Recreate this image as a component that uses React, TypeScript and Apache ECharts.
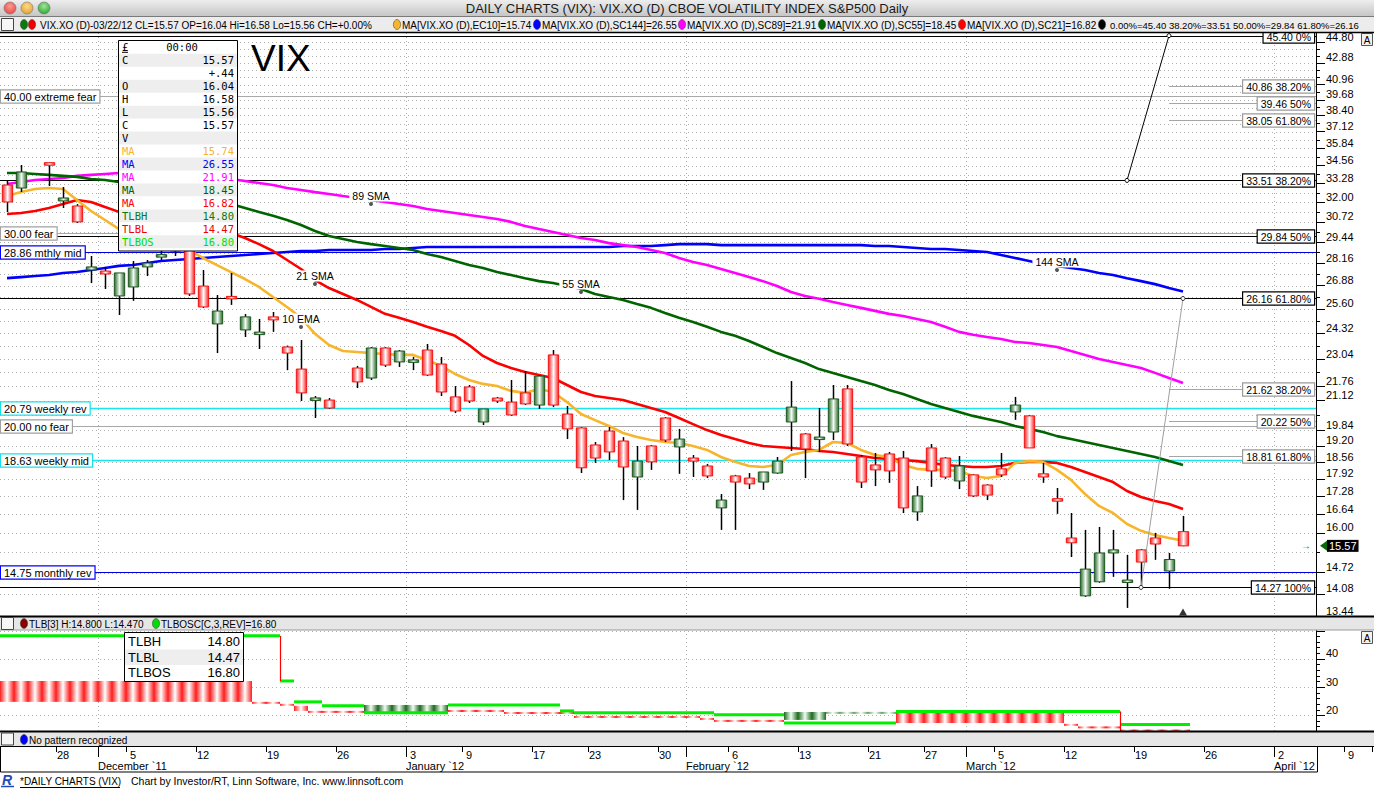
import React, { useEffect, useRef } from "react";
import * as echarts from "echarts";

// ---------------- DATA ----------------
const dates: string[] = [
  "2011-11-22","2011-11-23","2011-11-24","2011-11-25","2011-11-28","2011-11-29","2011-11-30",
  "2011-12-01","2011-12-02","2011-12-05","2011-12-06","2011-12-07","2011-12-08","2011-12-09","2011-12-12","2011-12-13","2011-12-14","2011-12-15","2011-12-16","2011-12-19","2011-12-20","2011-12-21","2011-12-22","2011-12-23","2011-12-26","2011-12-27","2011-12-28","2011-12-29","2011-12-30",
  "2012-01-03","2012-01-04","2012-01-05","2012-01-06","2012-01-09","2012-01-10","2012-01-11","2012-01-12","2012-01-13","2012-01-17","2012-01-18","2012-01-19","2012-01-20","2012-01-23","2012-01-24","2012-01-25","2012-01-26","2012-01-27","2012-01-30","2012-01-31",
  "2012-02-01","2012-02-02","2012-02-03","2012-02-06","2012-02-07","2012-02-08","2012-02-09","2012-02-10","2012-02-13","2012-02-14","2012-02-15","2012-02-16","2012-02-17","2012-02-21","2012-02-22","2012-02-23","2012-02-24","2012-02-27","2012-02-28","2012-02-29",
  "2012-03-01","2012-03-02","2012-03-05","2012-03-06","2012-03-07","2012-03-08","2012-03-09","2012-03-12","2012-03-13","2012-03-14","2012-03-15","2012-03-16","2012-03-19","2012-03-20","2012-03-21","2012-03-22","2012-03-23","2012-03-26","2012-03-27","2012-03-28","2012-03-29","2012-03-30",
  "2012-04-02","2012-04-03","2012-04-04","2012-04-05","2012-04-06","2012-04-09","2012-04-10"
];
const MAIN_SLOTS = 94; // Nov 22 .. Apr 4 visible in the price panel

const opens = [
  33.19,32.98,null,34.70,32.10,31.76,27.77,27.71,26.30,26.80,
  27.95,28.55,28.90,30.00,26.85,24.80,26.22,24.49,24.30,25.17,
  23.63,22.56,21.17,21.14,null,22.61,22.14,23.58,22.90,22.93,
  23.48,22.80,21.28,21.73,20.19,21.23,21.05,21.46,20.92,23.24,
  20.53,19.94,19.24,19.81,19.40,17.99,19.20,20.36,19.16,18.72,
  18.41,16.86,18.03,17.95,17.80,18.14,20.19,19.69,19.50,19.77,
  21.64,18.76,18.45,18.88,18.72,16.72,19.12,18.72,17.84,18.07,
  17.69,18.30,20.62,20.45,18.11,17.18,15.83,14.02,14.44,15.34,
  14.44,15.44,15.83,14.77,16.04
];
const highs = [
  33.54,34.61,null,34.76,33.05,31.89,28.60,27.95,27.60,28.30,
  28.36,28.90,31.00,30.20,27.77,26.35,27.60,25.32,25.06,25.43,
  23.70,23.98,21.32,21.23,null,22.71,23.63,23.63,23.48,23.14,
  23.78,23.14,21.77,21.82,20.75,21.28,22.05,22.47,22.28,23.48,
  20.88,19.98,19.36,19.98,19.56,19.20,19.24,20.40,19.90,18.84,
  18.49,17.36,18.07,18.14,18.18,18.76,22.00,19.73,20.79,21.82,
  21.82,18.84,18.92,18.96,19.00,17.65,19.28,18.76,18.80,18.10,
  17.72,18.92,21.28,20.49,18.53,17.58,16.68,16.10,16.20,16.10,
  15.28,15.47,16.00,15.34,16.58
];
const lows = [
  31.36,32.71,null,33.12,31.63,30.65,27.02,26.69,25.27,26.03,
  27.42,28.36,28.60,26.30,25.64,23.33,25.81,24.13,23.53,24.39,
  22.51,21.10,20.36,20.75,null,21.68,22.05,22.66,22.66,22.51,
  22.23,21.32,20.57,21.01,20.06,21.01,20.45,20.92,20.75,20.83,
  19.48,18.14,18.53,18.64,17.14,16.79,18.26,19.36,18.11,17.99,
  17.95,16.10,16.10,17.54,17.51,18.11,19.00,17.95,18.96,19.44,
  19.20,17.58,17.65,17.77,16.68,16.41,17.62,17.92,17.54,17.25,
  17.14,17.99,20.28,19.12,17.77,16.65,15.21,13.99,14.41,14.59,
  13.67,14.27,15.12,14.23,15.56
];
const closes = [
  32.03,34.11,null,34.68,32.30,30.72,27.95,27.54,27.60,27.89,
  28.18,28.66,30.59,26.41,25.70,25.48,26.19,25.17,24.33,25.01,
  23.33,21.46,21.19,20.79,null,21.96,23.58,22.75,23.43,22.95,
  22.28,21.50,20.66,21.10,20.75,21.10,20.49,20.97,22.23,20.92,
  19.90,18.34,18.72,18.96,18.37,18.60,18.57,19.44,19.48,18.60,
  18.03,17.14,17.80,17.73,18.18,18.60,20.83,19.08,19.52,21.19,
  19.28,17.80,18.26,18.22,16.86,17.29,18.22,17.99,18.41,17.29,
  17.32,18.07,20.92,19.12,17.99,17.11,15.67,14.83,15.34,15.44,
  14.47,15.05,15.63,15.13,15.57
];

const ema10 = [
  32.43,32.70,32.91,32.98,32.91,32.16,31.43,30.84,30.26,29.82,
  29.57,29.38,29.26,28.96,28.48,28.06,27.65,27.25,26.80,26.24,
  25.70,25.12,24.29,23.73,23.43,23.38,23.33,23.28,23.24,23.24,
  22.99,22.71,22.33,22.05,21.87,21.77,21.55,21.46,21.64,21.50,
  21.05,20.53,20.27,20.02,19.73,19.56,19.44,19.36,19.32,19.20,
  19.04,18.76,18.57,18.41,18.37,18.45,18.84,18.96,19.04,19.36,
  19.32,19.04,18.84,18.76,18.45,18.30,18.26,18.26,18.22,18.03,
  17.95,18.03,18.53,18.60,18.57,18.26,17.88,17.36,16.93,16.68,
  16.30,16.07,15.93,15.83,15.74
];
const sma144 = [
  27.30,27.36,27.42,27.48,27.60,27.65,27.77,27.89,28.01,28.06,
  28.18,28.30,28.36,28.42,28.48,28.54,28.60,28.66,28.72,28.78,
  28.84,28.90,28.90,28.96,28.96,28.96,28.96,29.02,29.02,29.08,
  29.14,29.14,29.14,29.14,29.14,29.14,29.14,29.14,29.14,29.14,
  29.14,29.14,29.14,29.14,29.20,29.20,29.20,29.26,29.32,29.32,
  29.32,29.26,29.26,29.26,29.26,29.26,29.26,29.26,29.26,29.26,
  29.26,29.26,29.20,29.20,29.14,29.08,29.02,29.02,28.96,28.90,
  28.84,28.66,28.48,28.30,28.12,28.01,27.89,27.77,27.60,27.48,
  27.30,27.13,26.96,26.74,26.55
];
const sma89 = [
  33.26,33.40,33.54,33.61,33.68,33.83,33.90,33.97,34.04,34.04,
  33.97,33.90,33.83,33.83,33.76,33.68,33.61,33.47,33.33,33.19,
  32.98,32.84,32.70,32.57,32.43,32.30,32.16,32.03,31.89,31.76,
  31.56,31.43,31.30,31.17,31.04,30.91,30.72,30.46,30.26,30.07,
  29.88,29.70,29.57,29.38,29.26,29.14,28.96,28.78,28.48,28.24,
  28.06,27.83,27.60,27.36,27.13,26.85,26.52,26.30,26.14,25.97,
  25.81,25.65,25.49,25.33,25.22,25.06,24.90,24.65,24.39,24.24,
  24.13,24.03,23.88,23.83,23.73,23.63,23.43,23.24,23.04,22.90,
  22.75,22.61,22.38,22.14,21.91
];
const sma55 = [
  34.04,34.04,33.97,33.90,33.83,33.76,33.61,33.54,33.40,33.26,
  33.12,32.91,32.77,32.57,32.36,32.16,31.89,31.63,31.37,31.11,
  30.84,30.52,30.14,29.82,29.64,29.45,29.32,29.20,29.08,28.96,
  28.72,28.54,28.30,28.06,27.89,27.65,27.48,27.30,27.13,27.02,
  26.85,26.69,26.41,26.24,26.08,25.86,25.65,25.38,25.12,24.90,
  24.65,24.39,24.19,23.93,23.63,23.33,23.09,22.85,22.56,22.38,
  22.19,22.00,21.82,21.59,21.41,21.19,20.97,20.79,20.62,20.45,
  20.32,20.19,20.02,19.90,19.77,19.60,19.48,19.36,19.24,19.12,
  19.00,18.88,18.76,18.60,18.45
];
const sma21 = [
  31.23,31.30,31.43,31.63,31.89,32.16,32.03,31.69,31.37,31.11,
  30.91,30.72,30.52,30.39,30.26,30.14,30.01,29.70,29.32,28.90,
  28.36,27.83,27.19,26.74,26.41,26.08,25.70,25.33,25.12,24.90,
  24.65,24.44,24.19,23.73,23.19,22.85,22.61,22.42,22.28,22.14,
  21.82,21.50,21.32,21.23,21.14,20.97,20.79,20.62,20.36,20.10,
  19.85,19.65,19.48,19.32,19.20,19.16,19.12,19.08,19.00,18.96,
  18.88,18.80,18.72,18.68,18.64,18.60,18.53,18.45,18.41,18.37,
  18.37,18.41,18.53,18.57,18.57,18.53,18.37,18.18,17.99,17.80,
  17.47,17.25,17.11,17.00,16.82
];

// price-axis tick labels (log scale)
const priceTickLabels = [44.80,42.88,40.96,39.68,38.40,37.12,35.84,34.56,33.28,32.00,30.72,29.44,28.16,26.88,25.60,24.32,23.04,21.76,21.12,19.84,19.20,18.56,17.92,17.28,16.64,16.00,14.72,14.08,13.44];
const priceTickStep = 0.64;
const priceAxisMin = 13.44;
const priceAxisMax = 45.654;
const tlbTickLabels = [20, 30, 40, 50];
const tlbMinorStep = 2;
const tlbAxisMin = 14.47;
const tlbAxisMax = 50.28;

const weekStartIdx = [4,9,14,19,24,29,33,38,42,47,52,57,62,66,71,76,81,86,91,96];
const monthStartIdx = [7,29,49,69,91];
const monthNames = ["December `11","January `12","February `12","March `12","April `12"];

// horizontal reference levels
const refLevels = [40.00, 30.00, 28.86, 20.79, 20.00, 18.63, 14.75];
const refNames = ["extreme fear","fear","mthly mid","weekly rev","no fear","weekly mid","monthly rev"];
// fibonacci retracements
const fibPcts = ["0%","38.20%","50%","61.80%","100%"];
const fibMain = [45.40, 33.51, 29.84, 26.16, 14.27];
const fibSubPcts = ["38.20%","50%","61.80%"];
const fibUpper = [40.86, 39.46, 38.05];
const fibLower = [21.62, 20.22, 18.81];
const fibSubStartIdx = 83;
const fibAnchorA = [[80, 33.51], [83, 45.40]];
const fibAnchorB = [[81, 14.27], [84, 26.16]];

// moving-average annotations
const maLabelText = ["89 SMA","21 SMA","10 EMA","55 SMA","144 SMA"];
const maLabelIdx = [26, 22, 21, 41, 75];
const maLabelVal = [31.89, 26.97, 24.64, 26.52, 27.77];

const lastIdx = 84;
const lastClose = 15.57;
const markerVal = 13.55;

// three line break panel
const tlbStart = [0,18,20,21,22,26,32,36,41,50,51,56,59,64,76,77,80];
const tlbEnd   = [18,20,21,22,26,32,36,41,50,51,56,59,64,76,77,80,85];
const tlbLow   = [24.8,24.1,23.4,21.6,20.9,20.9,21.2,20.5,19.1,18.4,17.7,18.4,20.75,17.3,16.3,15.6,14.47];
const tlbHigh  = [32.2,24.8,24.1,23.4,21.6,23.7,21.95,21.2,19.8,19.1,18.4,21.2,21.05,21.6,17.0,15.9,14.80];
const tlbKind  = [0,0,0,0,0,1,0,0,0,0,0,1,2,0,0,0,0]; // 0 down, 1 up, 2 fading up
const tlbosStart = [0,20,21,23,26,32,40,41,51,56,64,80];
const tlbosEnd   = [20,21,23,26,32,40,41,51,56,64,80,85];
const tlbosVal   = [48.2,32.2,24.8,23.4,20.9,23.7,21.6,20.9,20.2,17.3,21.4,16.8];
const tlbReversalIdx = [20, 80];
const tlbReversalFrom = [48.2, 21.4];
const tlbReversalTo = [32.2, 14.47];

// ---------------- STYLE ----------------
const FONT = '"Liberation Sans", Arial, sans-serif';
const MONO = '"DejaVu Sans Mono", monospace';
const C_EMA = "#f7b52c";
const C_144 = "#0000ff";
const C_89 = "#ff00ff";
const C_55 = "#006400";
const C_21 = "#ff0000";
const GRID_DOT = "#b0b0b0";
const refStyles = [
  { line: "#a8a8a8", border: "#a0a0a0", w: 1 },
  { line: "#a8a8a8", border: "#a0a0a0", w: 1 },
  { line: "#0000d8", border: "#0000ff", w: 1 },
  { line: "#19e6ee", border: "#19e0e8", w: 1.5 },
  { line: "#a8a8a8", border: "#a0a0a0", w: 1 },
  { line: "#19e6ee", border: "#19e0e8", w: 1.5 },
  { line: "#0000d8", border: "#0000ff", w: 1 },
];

const L = Math.log;
const hGrad = (edge: string, mid: string) =>
  new echarts.graphic.LinearGradient(0, 0, 1, 0, [
    { offset: 0, color: edge },
    { offset: 0.5, color: mid },
    { offset: 1, color: edge },
  ]);

function txt(x: number, y: number, text: string, font: string, fill = "#000", align = "left", extra: any = {}) {
  return {
    type: "text", x, y, z: 100, silent: true,
    style: { text, font, fill, align, verticalAlign: "middle", textAlign: align, textVerticalAlign: "middle", ...extra },
  };
}
function rect(x: number, y: number, w: number, h: number, style: any, z = 100) {
  return { type: "rect", z, silent: true, shape: { x, y, width: w, height: h }, style };
}
function hline(x1: number, x2: number, y: number, stroke: string, lw = 1, z = 101) {
  return { type: "line", z, silent: true, shape: { x1, y1: y, x2, y2: y }, style: { stroke, lineWidth: lw } };
}
function oval(cx: number, cy: number, fill: string) {
  return { type: "ellipse", z: 101, silent: true, shape: { cx, cy, rx: 3.6, ry: 5 }, style: { fill, stroke: "#333", lineWidth: 0.5 } };
}
function xBox(y: number) {
  return [
    rect(1.5, y, 12, 12, { fill: "#f6f6f6", stroke: "#444", lineWidth: 1 }, 101),
    txt(7.5, y + 6.5, "X", `11px ${FONT}`, "#000", "center", {}),
  ];
}

function buildChrome() {
  const g: any[] = [];
  // title bar
  g.push(rect(0, 0, 1374, 16, { fill: new echarts.graphic.LinearGradient(0, 0, 0, 1, [{ offset: 0, color: "#eeeeee" }, { offset: 1, color: "#c6c6c6" }]) }));
  g.push(hline(0, 1374, 16.5, "#7a7a7a"));
  const lights = [["#e2463f", "#ff9a94"], ["#e0a02a", "#ffd88a"], ["#27a52c", "#9fe59a"]];
  lights.forEach((c, k) => {
    g.push({ type: "circle", z: 101, silent: true, shape: { cx: 10 + 17 * k, cy: 8, r: 6 },
      style: { fill: new echarts.graphic.RadialGradient(0.5, 0.35, 0.7, [{ offset: 0, color: c[1] }, { offset: 1, color: c[0] }]), stroke: "#777", lineWidth: 0.6 } });
  });
  g.push(txt(687, 8.5, "DAILY CHARTS (VIX): VIX.XO (D) CBOE VOLATILITY INDEX S&P500 Daily", `13px ${FONT}`, "#1a1a1a", "center"));

  // main legend bar
  g.push(rect(0, 17, 1374, 15, { fill: "#ececec" }));
  g.push(hline(0, 1374, 32.5, "#000", 1.5));
  g.push(...xBox(18.5));
  g.push(oval(24, 24.5, "#0a7a0a"), oval(32, 24.5, "#ee0000"));
  const LF = `10px ${FONT}`;
  g.push(txt(40, 25, "VIX.XO (D)-03/22/12 CL=15.57 OP=16.04 Hi=16.58 Lo=15.56 CH=+0.00%", LF));
  g.push(oval(397, 24.5, "#f7b52c"), txt(402, 25, "MA[VIX.XO (D),EC10]=15.74", LF));
  g.push(oval(537, 24.5, "#0000ff"), txt(542, 25, "MA[VIX.XO (D),SC144]=26.55", LF));
  g.push(oval(682, 24.5, "#ff00ff"), txt(687, 25, "MA[VIX.XO (D),SC89]=21.91", LF));
  g.push(oval(822, 24.5, "#006400"), txt(827, 25, "MA[VIX.XO (D),SC55]=18.45", LF));
  g.push(oval(962, 24.5, "#ff0000"), txt(967, 25, "MA[VIX.XO (D),SC21]=16.82", LF));
  g.push(oval(1102, 24.5, "#000000"), txt(1110, 25, "0.00%=45.40 38.20%=33.51 50.00%=29.84 61.80%=26.16", `9.5px ${FONT}`));

  // "A" buttons
  g.push(rect(1361.5, 33.5, 11, 12, { fill: "#f2f2f2", stroke: "#555", lineWidth: 1 }));
  g.push(txt(1367, 40, "A", `10px ${FONT}`, "#000", "center"));
  g.push(rect(1361.5, 631.5, 11, 12, { fill: "#f2f2f2", stroke: "#555", lineWidth: 1 }));
  g.push(txt(1367, 638, "A", `10px ${FONT}`, "#000", "center"));

  // data window
  const rows: [string, string, string][] = [
    ["£", "00:00", "#000"], ["C", "15.57", "#000"], ["", "+.44", "#000"], ["O", "16.04", "#000"],
    ["H", "16.58", "#000"], ["L", "15.56", "#000"], ["C", "15.57", "#000"], ["V", "", "#000"],
    ["MA", "15.74", C_EMA], ["MA", "26.55", C_144], ["MA", "21.91", C_89], ["MA", "18.45", C_55],
    ["MA", "16.82", C_21], ["TLBH", "14.80", "#0a7a0a"], ["TLBL", "14.47", "#ee0000"], ["TLBOS", "16.80", "#00e000"],
  ];
  g.push(rect(118.5, 40.5, 119, 210.5, { fill: "#fff", stroke: "#000", lineWidth: 1 }));
  rows.forEach((r, k) => {
    const cy = 47.3 + k * 12.96;
    if (k % 2 === 1) g.push(rect(119, cy - 6.4, 118, 12.9, { fill: "#eeeeee" }, 100));
    const DF = `10.5px ${MONO}`;
    if (k === 0) {
      g.push(txt(122, cy, r[0], DF, r[2]));
      g.push(hline(122, 128, cy + 5, "#000", 1));
      g.push(txt(182, cy, r[1], DF, r[2], "center"));
    } else {
      g.push(txt(122, cy, r[0], DF, r[2]));
      g.push(txt(234, cy, r[1], DF, r[2], "right"));
    }
  });
  // big symbol
  g.push(txt(251, 58, "VIX", `37px ${FONT}`, "#000", "left"));

  // TLB header bar
  g.push(rect(0, 617, 1374, 13, { fill: "#e6e6e6" }));
  g.push(hline(0, 1374, 616.5, "#000", 2));
  g.push(hline(0, 1374, 630, "#9a9a9a", 1));
  g.push(...xBox(617.5));
  g.push(oval(24, 623.5, "#8b0000"), txt(29, 624, "TLB[3] H:14.800 L:14.470", LF));
  g.push(oval(156, 623.5, "#00dd00"), txt(161, 624, "TLBOSC[C,3,REV]=16.80", LF));
  // TLB data window
  g.push(rect(124.5, 632.5, 119, 49, { fill: "#fff", stroke: "#000", lineWidth: 1 }));
  g.push(rect(125, 649.5, 118, 15.5, { fill: "#eeeeee" }));
  const TF = `13px ${FONT}`;
  [["TLBH", "14.80"], ["TLBL", "14.47"], ["TLBOS", "16.80"]].forEach((r, k) => {
    const cy = 641.5 + k * 15.7;
    g.push(txt(128, cy, r[0], TF), txt(240, cy, r[1], TF, "#000", "right"));
  });

  // pattern bar
  g.push(rect(0, 732, 1374, 14, { fill: "#e6e6e6" }));
  g.push(hline(0, 1374, 731.5, "#000", 2));
  g.push(hline(0, 1374, 746.5, "#000", 1));
  g.push(...xBox(733));
  g.push(oval(24, 739.5, "#0000ff"), txt(29, 740, "No pattern recognized", LF));

  // date strip frame
  g.push(rect(0.5, 746.5, 1317, 25.5, { fill: "none", stroke: "#000", lineWidth: 1 }));

  // footer
  g.push(txt(2, 780, "R", `bold italic 14px ${FONT}`, "#1f49b6"));
  g.push(hline(1, 14, 786.5, "#1f49b6", 1.5));
  g.push(txt(20, 781, "*DAILY CHARTS (VIX)", `10px ${FONT}`, "#000"));
  g.push(hline(20, 120, 787.5, "#000", 1));
  g.push(txt(131, 781, "Chart by Investor/RT, Linn Software, Inc. www.linnsoft.com", `10.5px ${FONT}`, "#000"));
  return g;
}

// ---------------- RENDERERS ----------------
function renderCandle(params: any, api: any) {
  const i = api.value(0);
  const o = api.value(1), h = api.value(2), l = api.value(3), c = api.value(4);
  const pO = api.coord([i, o]);
  const yC = api.coord([i, c])[1];
  const yH = api.coord([i, h])[1];
  const yL = api.coord([i, l])[1];
  const w = api.size([1, 0])[0] * 0.74;
  const up = c > o;
  let top = Math.min(pO[1], yC);
  let hgt = Math.abs(pO[1] - yC);
  if (hgt < 2.5) { top -= (2.5 - hgt) / 2; hgt = 2.5; }
  const xc = Math.round(pO[0]) + 0.5;
  return {
    type: "group",
    children: [
      { type: "line", shape: { x1: xc, y1: yH, x2: xc, y2: yL }, style: { stroke: "#000", lineWidth: 1.5 } },
      {
        type: "rect",
        shape: { x: xc - w / 2, y: top, width: w, height: hgt },
        style: { fill: up ? hGrad("#27682a", "#f2fbf2") : hGrad("#ff1c1c", "#ffffff"), stroke: up ? "#1d561f" : "#f01414", lineWidth: 1 },
      },
    ],
  };
}

function levelText(grp: number, k: number) {
  if (grp === 0) return refLevels[k].toFixed(2) + " " + refNames[k];
  if (grp === 1) return fibMain[k].toFixed(2) + " " + fibPcts[k];
  const arr = grp === 2 ? fibUpper : fibLower;
  return arr[k].toFixed(2) + " " + fibSubPcts[k];
}

function renderGridLine(params: any, api: any) {
  const cs = params.coordSys;
  const y = Math.round(api.coord([0, api.value(1)])[1]) + 0.5;
  return { type: "line", shape: { x1: cs.x, y1: y, x2: cs.x + cs.width, y2: y }, style: { stroke: GRID_DOT, lineWidth: 1, lineDash: [1, 3] } };
}

function renderLevelLine(params: any, api: any) {
  const cs = params.coordSys;
  const grp = api.value(2), k = api.value(3);
  const y = Math.round(api.coord([0, api.value(1)])[1]) + 0.5;
  let x1 = cs.x, x2 = cs.x + cs.width, stroke = "#000", lw = 1;
  if (grp === 0) { stroke = refStyles[k].line; lw = refStyles[k].w; }
  else if (grp >= 2) { x1 = api.coord([api.value(0), api.value(1)])[0]; stroke = "#a6a6a6"; }
  return { type: "line", shape: { x1, y1: y, x2, y2: y }, style: { stroke, lineWidth: lw } };
}

function renderLevelLabel(params: any, api: any) {
  const cs = params.coordSys;
  const grp = api.value(2), k = api.value(3);
  const y = Math.round(api.coord([0, api.value(1)])[1]) + 0.5;
  const left = grp === 0;
  const border = grp === 0 ? refStyles[k].border : grp === 1 ? "#000" : "#9a9a9a";
  return {
    type: "text",
    x: left ? cs.x + 1 : cs.x + cs.width - 2,
    y,
    style: {
      text: levelText(grp, k),
      font: left ? `11px ${FONT}` : `10.5px ${FONT}`,
      fill: "#000",
      align: left ? "left" : "right",
      verticalAlign: "middle",
      backgroundColor: "#fff",
      borderColor: border,
      borderWidth: 1.2,
      padding: [1, 3, 0, 3],
    },
  };
}

function renderMaLabel(params: any, api: any) {
  const k = api.value(2);
  const p = api.coord([api.value(0), api.value(1)]);
  return {
    type: "group",
    children: [
      { type: "circle", shape: { cx: p[0], cy: p[1], r: 2 }, style: { fill: "#555" } },
      {
        type: "text", x: p[0], y: p[1] - 8,
        style: { text: maLabelText[k], font: `10.5px ${FONT}`, fill: "#000", align: "center", verticalAlign: "middle", backgroundColor: "#fff", padding: [0, 3, 0, 3] },
      },
    ],
  };
}

function renderPriceTag(params: any, api: any) {
  const cs = params.coordSys;
  const y = api.coord([api.value(0), api.value(1)])[1];
  const xr = cs.x + cs.width;
  return {
    type: "group",
    children: [
      { type: "text", x: xr - 10, y, style: { text: "→", font: `10px ${FONT}`, fill: "#0a7a0a", align: "center", verticalAlign: "middle" } },
      { type: "polygon", shape: { points: [[xr + 4, y], [xr + 11, y - 5], [xr + 11, y + 5]] }, style: { fill: "#0a6a0a" } },
      { type: "text", x: xr + 11, y, style: { text: lastClose.toFixed(2), font: `11px ${FONT}`, fill: "#fff", align: "left", verticalAlign: "middle", backgroundColor: "#000", padding: [1, 2, 0, 2] } },
    ],
  };
}

function renderTlbSlot(params: any, api: any) {
  const s = api.value(0);
  const w = api.size([1, 0])[0];
  const pLo = api.coord([s, api.value(1)]);
  const pHi = api.coord([s, api.value(2)]);
  let top = pHi[1];
  let h = pLo[1] - pHi[1];
  if (h < 2) { top -= (2 - h) / 2; h = 2; }
  const kind = api.value(3);
  const fill = kind === 0 ? hGrad("#ff1c1c", "#ffffff") : kind === 1 ? hGrad("#1e6a1e", "#f0fff0") : hGrad("#3c8a3c", "#ffffff");
  return { type: "rect", shape: { x: pLo[0] - w / 2, y: top, width: w, height: h }, style: { fill, opacity: kind === 2 ? 0.8 : 1 } };
}

function renderTlbos(params: any, api: any) {
  const w = api.size([1, 0])[0];
  const p = api.coord([api.value(0), api.value(2)]);
  const x1 = p[0] - w / 2;
  const x2 = x1 + (api.value(1) - api.value(0)) * w;
  return { type: "line", shape: { x1, y1: p[1], x2, y2: p[1] }, style: { stroke: "#00ee00", lineWidth: 3 } };
}

function renderReversal(params: any, api: any) {
  const w = api.size([1, 0])[0];
  const a = api.coord([api.value(0), api.value(1)]);
  const b = api.coord([api.value(0), api.value(2)]);
  const x = Math.round(a[0] - w / 2) + 0.5;
  return { type: "line", shape: { x1: x, y1: a[1], x2: x, y2: b[1] }, style: { stroke: "#ff0000", lineWidth: 1.2 } };
}

// ---------------- OPTION ----------------
function buildOption() {
  const mainCats = dates.slice(0, MAIN_SLOTS);
  const allPriceTicks: number[] = [];
  for (let v = priceAxisMin; v <= 44.8 + 1e-6; v += priceTickStep) allPriceTicks.push(+v.toFixed(2));
  const tlbMinor: number[] = [];
  for (let v = 16; v <= 50; v += tlbMinorStep) tlbMinor.push(v);

  const candleData: number[][] = [];
  opens.forEach((o, i) => {
    if (o != null) candleData.push([i, L(o), L(highs[i] as number), L(lows[i] as number), L(closes[i] as number)]);
  });

  const levelData: number[][] = [
    ...refLevels.map((v, k) => [0, L(v), 0, k]),
    ...fibMain.map((v, k) => [0, L(v), 1, k]),
    ...fibUpper.map((v, k) => [fibSubStartIdx, L(v), 2, k]),
    ...fibLower.map((v, k) => [fibSubStartIdx, L(v), 3, k]),
  ];

  const tlbSlots: number[][] = [];
  tlbStart.forEach((s, b) => {
    for (let j = s; j < tlbEnd[b]; j++) tlbSlots.push([j, tlbLow[b], tlbHigh[b], tlbKind[b]]);
  });

  const dotted = { color: GRID_DOT, type: [1, 3] as any, width: 1 };
  const isMonth = (i: number) => monthStartIdx.indexOf(i) >= 0;
  const isWeek = (i: number) => weekStartIdx.indexOf(i) >= 0;

  const maLine = (data: number[], color: string, name: string) => ({
    type: "line", name, xAxisIndex: 0, yAxisIndex: 0, data: data.map((v) => L(v)),
    symbol: "none", showSymbol: false, silent: true, z: 2,
    lineStyle: { color, width: 2.6 },
  });

  const series: any[] = [
    {
      type: "custom", name: "gridLines", xAxisIndex: 0, yAxisIndex: 0, z: 0, silent: true,
      renderItem: renderGridLine, data: allPriceTicks.map((t) => [0, L(t)]), encode: { x: 0, y: 1 },
    },
    {
      type: "custom", name: "levelLines", xAxisIndex: 0, yAxisIndex: 0, z: 1, silent: true,
      renderItem: renderLevelLine, data: levelData, encode: { x: 0, y: 1 },
    },
    maLine(sma144, C_144, "SMA144"),
    maLine(sma89, C_89, "SMA89"),
    maLine(sma55, C_55, "SMA55"),
    maLine(sma21, C_21, "SMA21"),
    maLine(ema10, C_EMA, "EMA10"),
    {
      type: "custom", name: "VIX", xAxisIndex: 0, yAxisIndex: 0, z: 3, silent: true,
      renderItem: renderCandle, data: candleData, encode: { x: 0, y: [1, 2, 3, 4] },
    },
    {
      type: "line", name: "fibA", xAxisIndex: 0, yAxisIndex: 0, z: 4, silent: true,
      data: fibAnchorA.map(([i, v]) => [i, L(v)]), symbol: "circle", symbolSize: 4, showSymbol: true,
      itemStyle: { color: "#fff", borderColor: "#000", borderWidth: 1 }, lineStyle: { color: "#000", width: 1 },
    },
    {
      type: "line", name: "fibB", xAxisIndex: 0, yAxisIndex: 0, z: 4, silent: true,
      data: fibAnchorB.map(([i, v]) => [i, L(v)]), symbol: "circle", symbolSize: 4, showSymbol: true,
      itemStyle: { color: "#fff", borderColor: "#333", borderWidth: 1 }, lineStyle: { color: "#a0a0a0", width: 1 },
    },
    {
      type: "custom", name: "maLabels", xAxisIndex: 0, yAxisIndex: 0, z: 5, silent: true,
      renderItem: renderMaLabel, data: maLabelIdx.map((i, k) => [i, L(maLabelVal[k]), k]), encode: { x: 0, y: 1 },
    },
    {
      type: "custom", name: "levelLabels", xAxisIndex: 0, yAxisIndex: 0, z: 6, silent: true,
      renderItem: renderLevelLabel, data: levelData, encode: { x: 0, y: 1 },
    },
    {
      type: "custom", name: "priceTag", xAxisIndex: 0, yAxisIndex: 0, z: 6, silent: true,
      renderItem: renderPriceTag, data: [[lastIdx, L(lastClose)]], encode: { x: 0, y: 1 },
    },
    {
      type: "scatter", name: "marker", xAxisIndex: 0, yAxisIndex: 0, z: 6, silent: true,
      data: [[lastIdx, L(markerVal)]], symbol: "triangle", symbolSize: [8, 7], itemStyle: { color: "#000" },
    },
    // TLB panel
    {
      type: "custom", name: "TLB", xAxisIndex: 1, yAxisIndex: 2, z: 2, silent: true,
      renderItem: renderTlbSlot, data: tlbSlots, encode: { x: 0, y: [1, 2] },
    },
    {
      type: "custom", name: "TLBOS", xAxisIndex: 1, yAxisIndex: 2, z: 3, silent: true,
      renderItem: renderTlbos, data: tlbosStart.map((s, k) => [s, tlbosEnd[k], tlbosVal[k]]), encode: { x: 0, y: 2 },
    },
    {
      type: "custom", name: "TLBrev", xAxisIndex: 1, yAxisIndex: 2, z: 3, silent: true,
      renderItem: renderReversal, data: tlbReversalIdx.map((i, k) => [i, tlbReversalFrom[k], tlbReversalTo[k]]), encode: { x: 0, y: [1, 2] },
    },
    // empty series so the date axes exist
    { type: "line", xAxisIndex: 2, yAxisIndex: 4, data: [], silent: true },
    { type: "line", xAxisIndex: 3, yAxisIndex: 5, data: [], silent: true },
  ];

  const hiddenCat = (gridIndex: number, data: string[]) => ({
    type: "category", gridIndex, data, boundaryGap: true,
    axisLine: { show: false }, axisTick: { show: false }, axisLabel: { show: false },
    splitLine: { show: true, interval: (i: number) => isMonth(i), lineStyle: dotted },
  });

  return {
    animation: false,
    backgroundColor: "#ffffff",
    textStyle: { fontFamily: FONT },
    grid: [
      { left: 0, top: 33, width: 1316, height: 583 },
      { left: 0, top: 630, width: 1316, height: 101 },
      { left: 0, top: 746, width: 1372, height: 1 },
      { left: 0, top: 746, width: 1358, height: 1 },
    ],
    xAxis: [
      hiddenCat(0, mainCats),
      hiddenCat(1, mainCats),
      {
        type: "category", gridIndex: 2, data: dates, boundaryGap: true, position: "bottom",
        axisLine: { show: false },
        axisTick: { show: true, interval: (i: number) => isWeek(i), length: 5, lineStyle: { color: "#000", width: 1 } },
        axisLabel: {
          show: true, interval: (i: number) => isWeek(i), margin: 2, fontSize: 11, fontFamily: FONT, color: "#000",
          formatter: (v: string) => String(parseInt(v.slice(8), 10)),
        },
        splitLine: { show: false },
      },
      {
        type: "category", gridIndex: 3, data: dates, boundaryGap: false, position: "bottom",
        axisLine: { show: false },
        axisTick: { show: true, interval: (i: number) => isMonth(i), length: 10, lineStyle: { color: "#000", width: 1 } },
        axisLabel: {
          show: true, interval: (i: number) => isMonth(i), margin: 13, fontSize: 11, fontFamily: FONT, color: "#000", align: "left",
          formatter: (v: string, idx: number) => monthNames[monthStartIdx.indexOf(idx)] || "",
        },
        splitLine: { show: false },
      },
    ],
    yAxis: [
      {
        type: "value", gridIndex: 0, position: "right", min: L(priceAxisMin), max: L(priceAxisMax), scale: true,
        axisLine: { show: true, onZero: false, lineStyle: { color: "#000", width: 1 } },
        axisTick: { show: true, customValues: allPriceTicks.map(L), length: 4, lineStyle: { color: "#000" } },
        axisLabel: {
          show: true, customValues: priceTickLabels.map(L), margin: 10, fontSize: 11, fontFamily: FONT, color: "#000",
          verticalAlign: "bottom", formatter: (v: number) => Math.exp(v).toFixed(2),
        },
        splitLine: { show: false },
      },
      {
        type: "value", gridIndex: 0, position: "right", min: L(priceAxisMin), max: L(priceAxisMax), scale: true,
        axisLine: { show: false },
        axisTick: { show: true, customValues: priceTickLabels.map(L), length: 9, lineStyle: { color: "#000" } },
        axisLabel: { show: false }, splitLine: { show: false },
      },
      {
        type: "value", gridIndex: 1, position: "right", min: tlbAxisMin, max: tlbAxisMax,
        axisLine: { show: true, onZero: false, lineStyle: { color: "#000", width: 1 } },
        axisTick: { show: true, customValues: tlbMinor, length: 4, lineStyle: { color: "#000" } },
        axisLabel: {
          show: true, customValues: tlbTickLabels, margin: 10, fontSize: 11, fontFamily: FONT, color: "#000",
          verticalAlign: "bottom", formatter: (v: number) => String(Math.round(v)),
        },
        splitLine: { show: false },
      },
      {
        type: "value", gridIndex: 1, position: "right", min: tlbAxisMin, max: tlbAxisMax,
        axisLine: { show: false },
        axisTick: { show: true, customValues: tlbTickLabels, length: 9, lineStyle: { color: "#000" } },
        axisLabel: { show: false },
        splitLine: { show: true, lineStyle: dotted },
      },
      { type: "value", gridIndex: 2, show: false },
      { type: "value", gridIndex: 3, show: false },
    ],
    series,
    graphic: buildChrome(),
  };
}

export default function App() {
  const ref = useRef<HTMLDivElement>(null);
  useEffect(() => {
    if (!ref.current) return;
    const chart = echarts.init(ref.current, null, { renderer: "svg" });
    chart.setOption(buildOption() as any);
    return () => chart.dispose();
  }, []);
  return (
    <div
      ref={ref}
      style={{ position: "absolute", left: 0, top: 0, width: 1374, height: 789, background: "#fff" }}
    />
  );
}
